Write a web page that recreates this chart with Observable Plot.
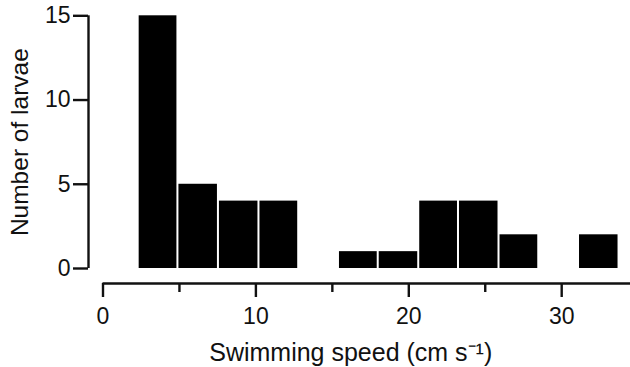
<!DOCTYPE html>
<html>
<head>
<meta charset="utf-8">
<script src="https://cdn.jsdelivr.net/npm/d3@7"></script>
<script src="https://cdn.jsdelivr.net/npm/@observablehq/plot@0.6"></script>
<style>
  html, body { margin: 0; padding: 0; background: #fff; }
  #chart { width: 630px; height: 367px; }
</style>
</head>
<body>
<div id="chart"></div>
<script>
// Histogram bins (cm s^-1) and counts
const binStart = [2.3, 4.9, 7.55, 10.2, 15.4, 18.0, 20.65, 23.25, 25.9, 31.1];
const binEnd   = [4.9, 7.55, 10.2, 12.8, 18.0, 20.65, 23.25, 25.9, 28.5, 33.75];
const counts   = [15, 5, 4, 4, 1, 1, 4, 4, 2, 2];

const xMajorTicks = [0, 10, 20, 30];
const xMinorTicks = [5, 15, 25];
const yTicks = [0, 5, 10, 15];
const xMax = 34.5;

const xLabel = "Swimming speed (cm s⁻¹)";
const yLabel = "Number of larvae";

const bins = counts.map((c, i) => ({x1: binStart[i], x2: binEnd[i], count: c}));

const font = "'Liberation Sans', Arial, Helvetica, sans-serif";

const chart = Plot.plot({
  width: 630,
  height: 367,
  marginLeft: 102.5,
  marginRight: 0,
  marginTop: 15.3,
  marginBottom: 99,
  style: {fontFamily: font, fontSize: "23px", color: "#111", background: "#fff"},
  x: {domain: [0, xMax]},
  y: {domain: [0, 15]},
  marks: [
    Plot.rectY(bins, {x1: "x1", x2: "x2", y: "count", fill: "#000", insetLeft: 1, insetRight: 1}),
    // y axis
    Plot.ruleX([0], {y1: yTicks[0], y2: yTicks[yTicks.length - 1], dx: -14.5, stroke: "#111", strokeWidth: 2.4}),
    Plot.axisY({ticks: yTicks, tickSize: 15, tickPadding: 3, dx: -14.5, label: null, stroke: "#111", strokeWidth: 2.4, fontSize: 23}),
    // x axis
    Plot.ruleY([0], {x1: 0, x2: xMax, dy: 15, stroke: "#111", strokeWidth: 2.4}),
    Plot.axisX({ticks: xMajorTicks, tickSize: 14, tickPadding: 10, dy: 15, label: null, stroke: "#111", strokeWidth: 2.4, fontSize: 23}),
    Plot.axisX({ticks: xMinorTicks, tickSize: 9, dy: 15, label: null, tickFormat: () => "", stroke: "#111", strokeWidth: 2.4}),
    // axis titles
    Plot.text([xLabel], {frameAnchor: "bottom", dx: -16, dy: 92, lineAnchor: "bottom", textAnchor: "middle", fontSize: 25, fill: "#111"}),
    Plot.text([yLabel], {frameAnchor: "left", dx: -83, rotate: -90, lineAnchor: "middle", textAnchor: "middle", fontSize: 24.5, fill: "#111"})
  ]
});

document.getElementById("chart").appendChild(chart);
</script>
</body>
</html>
